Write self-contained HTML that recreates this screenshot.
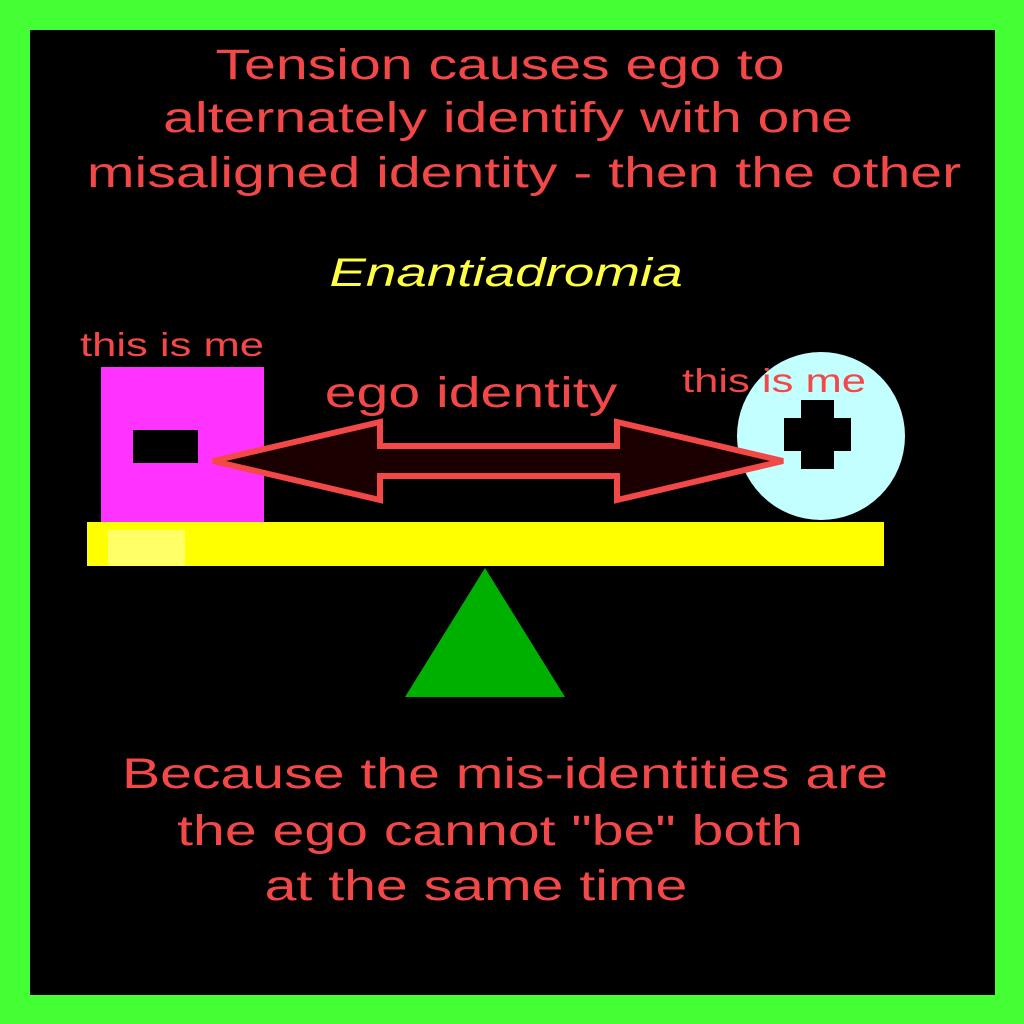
<!DOCTYPE html>
<html><head><style>
body{margin:0;width:1024px;height:1024px;background:#44ff33;position:relative;overflow:hidden;font-family:"Liberation Sans",sans-serif}
#in{position:absolute;left:30px;top:30px;width:965px;height:965px;background:#000}
.t{position:absolute;color:#f24848;white-space:nowrap;line-height:1;z-index:2}
.c{transform:translateX(-50%) scaleX(1.33)}
.l{transform:scaleX(1.32);transform-origin:left center}
svg{z-index:1}
</style></head><body>
<div id="in"></div>
<svg style="position:absolute;left:0;top:0" width="1024" height="1024">
<rect x="101" y="367" width="163" height="155" fill="#ff33ff"/>
<rect x="133" y="430" width="65" height="33" fill="#000"/>
<ellipse cx="821" cy="436" rx="84" ry="84" fill="#c4ffff"/>
<rect x="801" y="400" width="33" height="69" fill="#000"/>
<rect x="784" y="418" width="67" height="33" fill="#000"/>
<polygon points="213,461 380,422 380,446 617,446 617,422 783,461 617,500 617,476 380,476 380,500" fill="#1a0000" stroke="#f24848" stroke-width="6" stroke-linejoin="miter"/>
<rect x="87" y="522" width="797" height="44" fill="#ffff00"/>
<rect x="108" y="530" width="77" height="36" fill="#ffff66"/>
<polygon points="485,568 565,697 405,697" fill="#00b000"/>
</svg>
<div class="t c" style="left:500px;top:44px;font-size:43px">Tension causes ego to</div>
<div class="t c" style="left:508px;top:97px;font-size:43px">alternately identify with one</div>
<div class="t c" style="left:524px;top:152px;font-size:43px">misaligned identity - then the other</div>
<div class="t" style="left:506px;top:253px;font-size:40px;color:#ffff44;font-style:italic;transform:translateX(-50%) scaleX(1.37)">Enantiadromia</div>
<div class="t l" style="left:80px;top:328px;font-size:33px">this is me</div>
<div class="t l" style="left:682px;top:364px;font-size:33px">this is me</div>
<div class="t c" style="left:471px;top:372px;font-size:43px">ego identity</div>
<div class="t c" style="left:505px;top:753px;font-size:43px">Because the mis-identities are</div>
<div class="t c" style="left:490px;top:810px;font-size:43px">the ego cannot "be" both</div>
<div class="t c" style="left:476px;top:865px;font-size:43px">at the same time</div>
</body></html>
